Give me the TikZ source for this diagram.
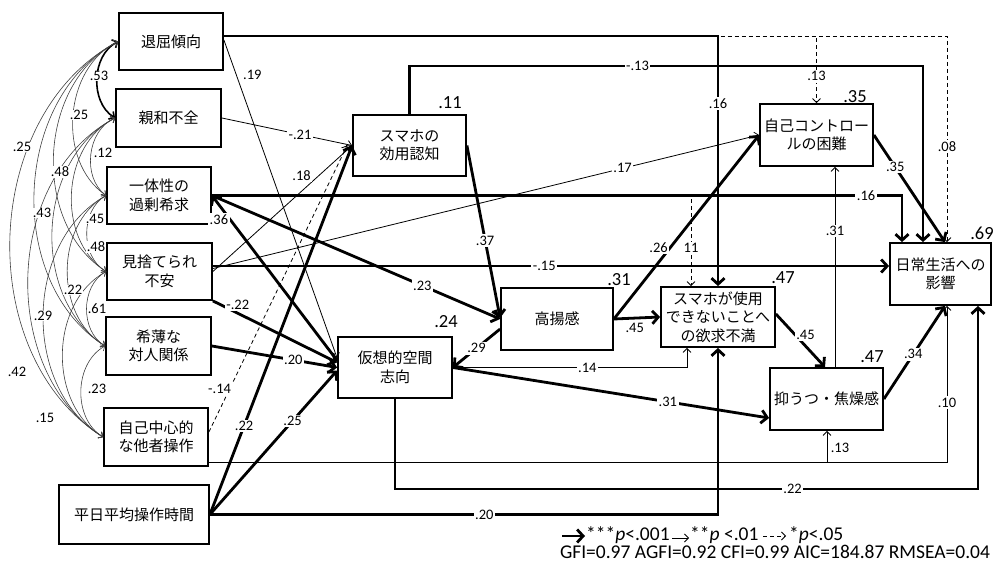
\documentclass[tikz,border=0pt]{standalone}
\usepackage{fontspec}
\setmainfont{Carlito}
\newfontfamily\jpf{Noto Sans CJK JP}
\usetikzlibrary{arrows.meta}
\tikzset{
 box/.style={draw, line width=1.8pt, fill=white, align=center, inner sep=0pt, font=\jpf\fontsize{15}{18.5}\selectfont},
 thk/.style={line width=2.8pt, -{Straight Barb[length=6pt,width=13pt]}},
 thn/.style={line width=0.8pt, -{Straight Barb[length=4pt,width=8pt]}},
 dsh/.style={line width=0.8pt, dash pattern=on 4pt off 3pt, -{Straight Barb[length=4pt,width=8pt]}},
 cov/.style={line width=0.6pt, draw=black!75, {Straight Barb[length=3.5pt,width=7pt]}-{Straight Barb[length=3.5pt,width=7pt]}},
 covt/.style={line width=1.6pt, {Straight Barb[length=4pt,width=9pt]}-{Straight Barb[length=4pt,width=9pt]}},
 lab/.style={fill=white, inner sep=1.5pt, font=\fontsize{14.5}{16}\selectfont},
 clab/.style={inner sep=0.5pt, fill=white, font=\fontsize{14.5}{16}\selectfont},
 rsq/.style={inner sep=0pt, font=\fontsize{18.5}{20}\selectfont},
 leg/.style={inner sep=0pt, font=\fontsize{19.5}{21}\selectfont},
}
\begin{document}
\begin{tikzpicture}[x=1pt,y=-1pt]
\useasboundingbox (0,0) rectangle (993,561);
% boxes
\node[box, minimum width=104pt, minimum height=57pt] (tai) at (171,41.5) {退屈傾向};
\node[box, minimum width=105pt, minimum height=58pt] (shin) at (168.5,118) {親和不全};
\node[box, minimum width=104pt, minimum height=57pt] (itt) at (159,195.5) {一体性の\\過剰希求};
\node[box, minimum width=105pt, minimum height=57pt] (mis) at (159.5,271.5) {見捨てられ\\不安};
\node[box, minimum width=105pt, minimum height=58pt] (kih) at (158.5,346) {希薄な\\対人関係};
\node[box, minimum width=104pt, minimum height=58pt] (jik) at (156,437) {自己中心的\\な他者操作};
\node[box, minimum width=150pt, minimum height=59pt] (hei) at (134,514.5) {平日平均操作時間};
\node[box, minimum width=113pt, minimum height=61pt] (kou) at (409.5,145.5) {スマホの\\効用認知};
\node[box, minimum width=114pt, minimum height=61pt] (kas) at (395,367.5) {仮想的空間\\志向};
\node[box, minimum width=112pt, minimum height=62pt] (kyo) at (557,319) {高揚感};
\node[box, minimum width=114pt, minimum height=60pt] (yok) at (718,317) {スマホが使用\\できないことへ\\の欲求不満};
\node[box, minimum width=113pt, minimum height=62pt] (jic) at (816.5,135) {自己コントロー\\ルの困難};
\node[box, minimum width=113pt, minimum height=62pt] (yok2) at (826.5,399) {抑うつ・焦燥感};
\node[box, minimum width=101pt, minimum height=62pt] (nic) at (940.5,274) {日常生活への\\影響};
% R squared
\node[rsq] (r1) at (450,103) {.11};
\node[rsq] (r2) at (446,322) {.24};
\node[rsq] (r3) at (619,280) {.31};
\node[rsq] (r4) at (783,278) {.47};
\node[rsq] (r5) at (855,97) {.35};
\node[rsq] (r6) at (872,357) {.47};
\node[rsq] (r7) at (982,233) {.69};
% covariances
\draw[covt] (tai.west) to[bend right=60] (shin.west);
\draw[cov] (tai.west) to[bend right=60] (itt.west);
\draw[cov] (tai.west) to[bend right=60] (mis.west);
\draw[cov] (tai.west) to[bend right=60] (kih.west);
\draw[cov] (tai.west) to[bend right=60] (jik.west);
\draw[cov] (shin.west) to[bend right=60] (itt.west);
\draw[cov] (shin.west) to[bend right=60] (mis.west);
\draw[cov] (shin.west) to[bend right=60] (kih.west);
\draw[cov] (shin.west) to[bend right=60] (jik.west);
\draw[cov] (itt.west) to[bend right=60] (mis.west);
\draw[cov] (itt.west) to[bend right=60] (kih.west);
\draw[cov] (itt.west) to[bend right=60] (jik.west);
\draw[cov] (mis.west) to[bend right=60] (kih.west);
\draw[cov] (mis.west) to[bend right=60] (jik.west);
\draw[cov] (kih.west) to[bend right=60] (jik.west);
\node[clab] (c1) at (99,76) {.53};
\node[clab] (c2) at (79,115) {.25};
\node[clab] (c3) at (103,153) {.12};
\node[clab] (c4) at (22,147) {.25};
\node[clab] (c5) at (60,172) {.48};
\node[clab] (c6) at (42,213) {.43};
\node[clab] (c7) at (95,219) {.45};
\node[clab] (c8) at (96,247) {.48};
\node[clab] (c9) at (73,290) {.22};
\node[clab] (c10) at (97,309) {.61};
\node[clab] (c11) at (43,316) {.29};
\node[clab] (c12) at (17,372) {.42};
\node[clab] (c13) at (97,389) {.23};
\node[clab] (c14) at (45,418) {.15};
% dashed paths (drawn first)
\draw[dsh] ([yshift=5.5pt]tai.east) -| node[lab,pos=0.768]{.08} ([xshift=6.5pt]nic.north);
\draw[dsh] ([yshift=5.5pt]tai.east) -| node[lab,pos=0.8]{.13} (jic.north);
\draw[dsh] (itt.east) -| node[lab,pos=0.79]{11} ([xshift=-27pt]yok.north);
\draw[dsh] ([yshift=5pt]jik.east) -- node[lab,pos=0.15,xshift=-10pt]{-.14} ([xshift=-5pt]kou.west);
% thin paths
\draw[thn] ([yshift=1.5pt]tai.east) -- node[lab,pos=0.11,xshift=16pt]{.19} ([yshift=9.5pt]kas.west);
\draw[thn] (shin.east) -- node[lab,pos=0.6]{-.21} (kou.west);
\draw[thn] (mis.east) -- node[lab,pos=0.68,xshift=-6pt,yshift=10pt]{.18} (kou.west);
\draw[thn] ([yshift=3pt]mis.east) -- node[lab,pos=0.75]{.17} (jic.west);
\draw[thn] ([yshift=-25pt]jik.east) -| node[lab,pos=0.73,xshift=13pt]{.13} ([xshift=0.5pt]yok2.south);
\draw[thn] ([yshift=-25pt]jik.east) -| node[lab,pos=0.69]{.10} ([xshift=6.5pt]nic.south);
\draw[thn] (kas.east) -| node[lab,pos=0.287]{.14} ([xshift=-31pt]yok.south);
\draw[thn] ([xshift=8.5pt]yok2.north) -- node[lab,pos=0.68]{.31} ([xshift=18.5pt]jic.south);
% thick paths
\draw[thk] ([yshift=5.5pt]tai.east) -| node[lab,pos=0.635]{.16} (yok.north);
\draw[thk] (itt.east) -| node[lab,pos=0.474]{.16} ([xshift=-38.5pt]nic.north);
\draw[thk] (itt.east) -- node[lab,pos=0.73]{.23} (kyo.west);
\draw[thk] ([yshift=7pt]kas.west) -- node[lab,pos=0.88,xshift=-8pt,yshift=-4pt]{.36} (itt.east);
\draw[thk] ([yshift=5.5pt]mis.east) -- node[lab,pos=0.49]{-.15} ([yshift=5.5pt]mis.east -| nic.west);
\draw[thk] (mis.south east) -- node[lab,pos=0.2,yshift=8pt]{-.22} ([yshift=5pt]kas.west);
\draw[thk] (kih.east) -- node[lab,pos=0.65]{.20} (kas.west);
\draw[thk] (hei.east) -- node[lab,pos=0.24]{.22} (kou.west);
\draw[thk] (hei.east) -- node[lab,pos=0.65]{.25} ([yshift=-3pt]kas.west);
\draw[thk] (hei.east) -| node[lab,pos=0.27]{.20} (yok.south);
\draw[thk] (kou.north) -- ++(0,-48) -| node[lab,pos=0.222]{-.13} ([xshift=-17.5pt]nic.north);
\draw[thk] (kou.east) -- node[lab,pos=0.55]{.37} ([yshift=1pt]kyo.west);
\draw[thk] ([yshift=-10pt]kyo.west) -- node[lab,pos=0.5]{.29} (kas.east);
\draw[thk] (kas.east) -- node[lab,pos=0.68]{.31} ([yshift=-19pt]yok2.west);
\draw[thk] (kas.south) -- ++(0,90) -| node[lab,pos=0.341]{.22} ([xshift=37.5pt]nic.south);
\draw[thk] (kyo.east) -- node[lab,pos=0.45,yshift=-10pt]{.45} (yok.west);
\draw[thk] (kyo.east) -- node[lab,pos=0.39,xshift=-12pt]{.26} (jic.west);
\draw[thk] ([yshift=3pt]yok.east) -- node[lab,pos=0.5,xshift=5pt,yshift=6pt]{.45} ([xshift=-1.5pt]yok2.north);
\draw[thk] (jic.east) -- node[lab,pos=0.3]{.35} ([xshift=4.5pt]nic.north);
\draw[thk] (yok2.east) -- node[lab,pos=0.48]{.34} ([xshift=4.5pt]nic.south);
% legend
\coordinate (l1a) at (562,536); \coordinate (l1b) at (585,536);
\coordinate (l2a) at (672,538); \coordinate (l2b) at (689,538);
\coordinate (l3a) at (763,536); \coordinate (l3b) at (786,536);
\draw[thk] (l1a) -- (l1b);
\draw[thn] (l2a) -- (l2b);
\draw[dsh] (l3a) -- (l3b);
\node[leg, anchor=base west] (t1) at (586,540) {***\textit{p}<.001};
\node[leg, anchor=base west] (t2) at (690,540) {**\textit{p} <.01};
\node[leg, anchor=base west] (t3) at (789,540) {*\textit{p}<.05};
\node[leg, anchor=base] (t4) at (775,558) {GFI=0.97 AGFI=0.92 CFI=0.99 AIC=184.87 RMSEA=0.04};
\end{tikzpicture}
\end{document}
